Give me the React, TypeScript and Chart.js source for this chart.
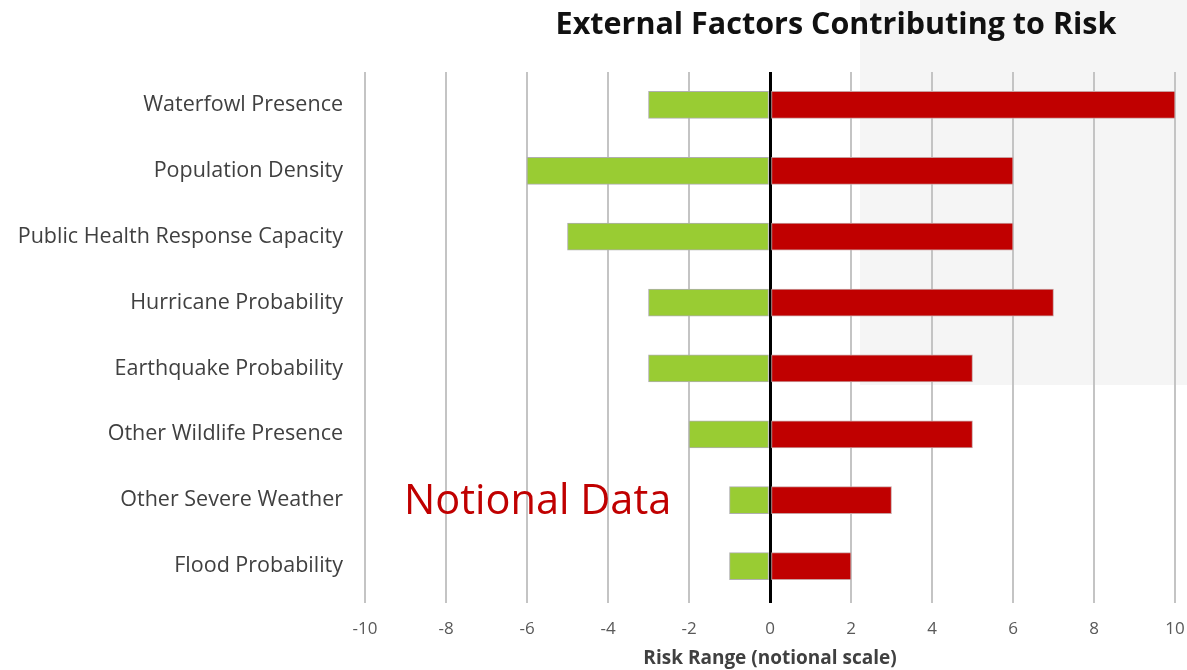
import React, { useEffect, useRef } from "react";
import { Chart, registerables } from "chart.js";

Chart.register(...registerables);

const categories = [
  "Waterfowl Presence",
  "Population Density",
  "Public Health Response Capacity",
  "Hurricane Probability",
  "Earthquake Probability",
  "Other Wildlife Presence",
  "Other Severe Weather",
  "Flood Probability",
];
const lowRisk = [-3, -6, -5, -3, -3, -2, -1, -1];
const highRisk = [10, 6, 6, 7, 5, 5, 3, 2];
const xMin = -10;
const xMax = 10;
const xStep = 2;
const titleText = "External Factors Contributing to Risk";
const axisTitle = "Risk Range (notional scale)";
const stampText = "Notional Data";

const FONT = "'Open Sans', Lato, sans-serif";

export default function App() {
  const ref = useRef<HTMLCanvasElement | null>(null);
  useEffect(() => {
    document.body.style.margin = "0";
    const backdrop = {
      id: "backdrop",
      beforeDraw(chart: any) {
        const { ctx } = chart;
        ctx.save();
        ctx.fillStyle = "#F5F5F5";
        ctx.fillRect(860, 0, chart.width - 860, 385);
        ctx.restore();
      },
    };
    const overlay = {
      id: "overlay",
      afterDraw(chart: any) {
        const { ctx } = chart;
        ctx.save();
        ctx.fillStyle = "#111111";
        ctx.font = `bold 30.5px ${FONT}`;
        ctx.textAlign = "center";
        ctx.textBaseline = "middle";
        ctx.fillText(titleText, 836, 25);
        ctx.fillStyle = "#C00000";
        ctx.font = `41.5px ${FONT}`;
        ctx.textAlign = "left";
        ctx.fillText(stampText, 404, 502);
        ctx.restore();
      },
    };
    const chart = new Chart(ref.current as HTMLCanvasElement, {
      type: "bar",
      data: {
        labels: categories,
        datasets: [
          {
            label: "Low",
            data: lowRisk,
            backgroundColor: "#99CC33",
            borderColor: "#AFAFAF",
            borderWidth: 1,
            borderSkipped: false,
            barThickness: 27,
          },
          {
            label: "High",
            data: highRisk,
            backgroundColor: "#C00000",
            borderColor: "#C9A0A0",
            borderWidth: 1,
            borderSkipped: false,
            barThickness: 27,
          },
        ],
      },
      options: {
        indexAxis: "y",
        animation: false,
        responsive: false,
        layout: { padding: { top: 72, right: 12, left: 0, bottom: 0 } },
        plugins: { legend: { display: false }, tooltip: { enabled: false }, title: { display: false } },
        scales: {
          x: {
            stacked: true,
            min: xMin,
            max: xMax,
            ticks: {
              stepSize: xStep,
              color: "#595959",
              font: { family: FONT, size: 17 },
              padding: 16,
            },
            grid: {
              color: (c: any) => (c.tick && c.tick.value === 0 ? "#000000" : "#C4C4C4"),
              lineWidth: (c: any) => (c.tick && c.tick.value === 0 ? 3 : 2),
              drawTicks: true,
              tickLength: 4,
            },
            border: { display: false },
            title: {
              display: true,
              text: axisTitle,
              color: "#404040",
              font: { family: FONT, size: 19, weight: "bold" },
              padding: { top: 0, bottom: 0 },
            },
            afterFit: (s: any) => {
              s.height = 71;
              s.paddingLeft = 0;
              s.paddingRight = 0;
            },
          },
          y: {
            stacked: true,
            ticks: {
              color: "#404040",
              font: { family: FONT, size: 21.5 },
              padding: 14,
            },
            grid: { display: false },
            border: { display: false },
            afterFit: (s: any) => {
              s.width = 365;
            },
          },
        },
      },
      plugins: [backdrop, overlay],
    } as any);
    return () => chart.destroy();
  }, []);
  return (
    <div style={{ width: 1187, height: 670, background: "#ffffff" }}>
      <canvas ref={ref} width={1187} height={670} />
    </div>
  );
}
